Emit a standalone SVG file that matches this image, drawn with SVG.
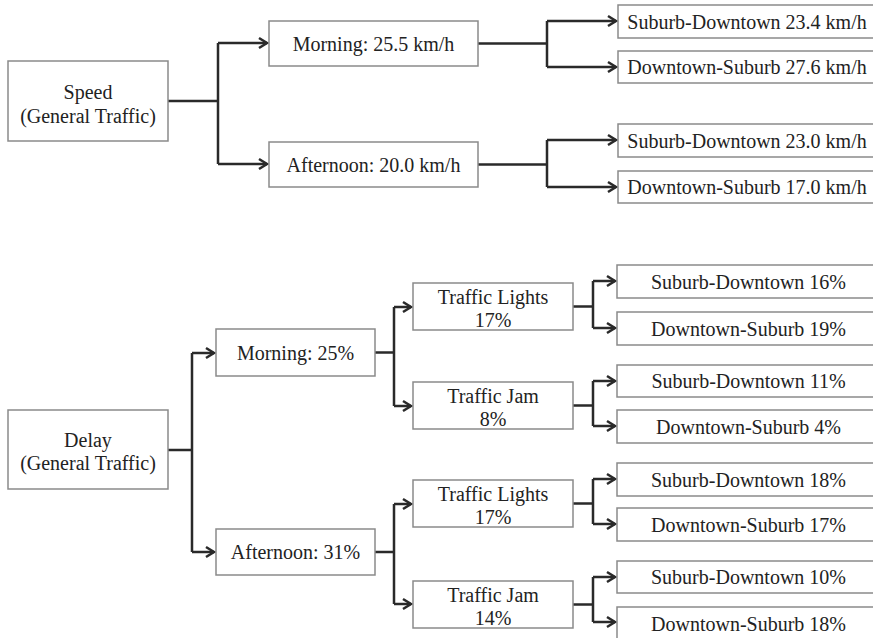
<svg xmlns="http://www.w3.org/2000/svg" width="873" height="638" viewBox="0 0 873 638">
<defs>
<style>
.box{fill:#fff;stroke:#8a8a8a;stroke-width:1.5}
.t{font-family:"Liberation Serif","Times New Roman",serif;font-size:20px;fill:#222;text-anchor:middle}
.c{fill:none;stroke:#2a2a2a;stroke-width:2.5}
.a{fill:none;stroke:#2a2a2a;stroke-width:2.5;marker-end:url(#ah)}
</style>
<marker id="ah" markerUnits="userSpaceOnUse" markerWidth="14" markerHeight="14" viewBox="-12 -7 14 14" refX="0" refY="0" orient="auto">
<path d="M-8,-5 L0,0 L-8,5" fill="none" stroke="#2a2a2a" stroke-width="2.5"/>
</marker>
</defs>
<rect width="873" height="638" fill="#fff"/>

<g id="connectors">
<!-- top -->
<path class="c" d="M168,101 H218 M218,43 V164"/>
<path class="a" d="M218,43 H267"/>
<path class="a" d="M218,164 H267"/>
<path class="c" d="M478,43.5 H547 M547,21 V67"/>
<path class="a" d="M547,21 H616"/>
<path class="a" d="M547,67 H616"/>
<path class="c" d="M478,164.5 H547 M547,140 V187"/>
<path class="a" d="M547,140 H616"/>
<path class="a" d="M547,187 H616"/>
<!-- bottom -->
<path class="c" d="M168,450 H192 M192,353 V552"/>
<path class="a" d="M192,353 H214"/>
<path class="a" d="M192,552 H214"/>
<path class="c" d="M375,352.5 H394 M394,307 V406"/>
<path class="a" d="M394,307 H411"/>
<path class="a" d="M394,406 H411"/>
<path class="c" d="M375,552 H394 M394,504 V604"/>
<path class="a" d="M394,504 H411"/>
<path class="a" d="M394,604 H411"/>
<path class="c" d="M573,306.5 H593 M593,281 V328"/>
<path class="a" d="M593,281 H615"/>
<path class="a" d="M593,328 H615"/>
<path class="c" d="M573,405.5 H593 M593,381 V426"/>
<path class="a" d="M593,381 H615"/>
<path class="a" d="M593,426 H615"/>
<path class="c" d="M573,503.5 H593 M593,479 V524"/>
<path class="a" d="M593,479 H615"/>
<path class="a" d="M593,524 H615"/>
<path class="c" d="M573,604.5 H593 M593,577 V622"/>
<path class="a" d="M593,577 H615"/>
<path class="a" d="M593,622 H615"/>
</g>

<g id="speed"><rect class="box" x="8" y="61" width="160" height="80"/><text class="t" x="88" y="99">Speed</text><text class="t" x="88" y="123">(General Traffic)</text></g>
<g id="speed-morning"><rect class="box" x="269" y="21" width="209" height="45"/><text class="t" x="373.5" y="50.5">Morning: 25.5 km/h</text></g>
<g id="speed-afternoon"><rect class="box" x="269" y="142" width="209" height="45"/><text class="t" x="373.5" y="171.5">Afternoon: 20.0 km/h</text></g>
<g id="speed-m-sd"><rect class="box" x="618" y="5" width="262" height="33"/><text class="t" x="747" y="28.5">Suburb-Downtown 23.4 km/h</text></g>
<g id="speed-m-ds"><rect class="box" x="618" y="51" width="262" height="32"/><text class="t" x="747" y="74">Downtown-Suburb 27.6 km/h</text></g>
<g id="speed-a-sd"><rect class="box" x="618" y="124" width="262" height="33"/><text class="t" x="747" y="147.5">Suburb-Downtown 23.0 km/h</text></g>
<g id="speed-a-ds"><rect class="box" x="618" y="171" width="262" height="32"/><text class="t" x="747" y="194">Downtown-Suburb 17.0 km/h</text></g>

<g id="delay"><rect class="box" x="8" y="410" width="160" height="79"/><text class="t" x="88" y="447">Delay</text><text class="t" x="88" y="470">(General Traffic)</text></g>
<g id="delay-morning"><rect class="box" x="216" y="329" width="159" height="47"/><text class="t" x="295.5" y="359.5">Morning: 25%</text></g>
<g id="delay-afternoon"><rect class="box" x="216" y="529" width="159" height="46"/><text class="t" x="295.5" y="559">Afternoon: 31%</text></g>
<g id="m-lights"><rect class="box" x="413" y="283" width="160" height="47"/><text class="t" x="493" y="303.5">Traffic Lights</text><text class="t" x="493" y="327">17%</text></g>
<g id="m-jam"><rect class="box" x="413" y="382" width="160" height="47"/><text class="t" x="493" y="402.5">Traffic Jam</text><text class="t" x="493" y="426">8%</text></g>
<g id="a-lights"><rect class="box" x="413" y="480" width="160" height="47"/><text class="t" x="493" y="500.5">Traffic Lights</text><text class="t" x="493" y="524">17%</text></g>
<g id="a-jam"><rect class="box" x="413" y="581" width="160" height="47"/><text class="t" x="493" y="601.5">Traffic Jam</text><text class="t" x="493" y="625">14%</text></g>

<g id="ml-sd"><rect class="box" x="617" y="265" width="263" height="33"/><text class="t" x="748.5" y="288.5">Suburb-Downtown 16%</text></g>
<g id="ml-ds"><rect class="box" x="617" y="312" width="263" height="33"/><text class="t" x="748.5" y="335.5">Downtown-Suburb 19%</text></g>
<g id="mj-sd"><rect class="box" x="617" y="365" width="263" height="32"/><text class="t" x="748.5" y="388">Suburb-Downtown 11%</text></g>
<g id="mj-ds"><rect class="box" x="617" y="410" width="263" height="33"/><text class="t" x="748.5" y="433.5">Downtown-Suburb 4%</text></g>
<g id="al-sd"><rect class="box" x="617" y="463" width="263" height="33"/><text class="t" x="748.5" y="486.5">Suburb-Downtown 18%</text></g>
<g id="al-ds"><rect class="box" x="617" y="508" width="263" height="33"/><text class="t" x="748.5" y="531.5">Downtown-Suburb 17%</text></g>
<g id="aj-sd"><rect class="box" x="617" y="561" width="263" height="32"/><text class="t" x="748.5" y="584">Suburb-Downtown 10%</text></g>
<g id="aj-ds"><rect class="box" x="617" y="607" width="263" height="33"/><text class="t" x="748.5" y="630.5">Downtown-Suburb 18%</text></g>
</svg>
